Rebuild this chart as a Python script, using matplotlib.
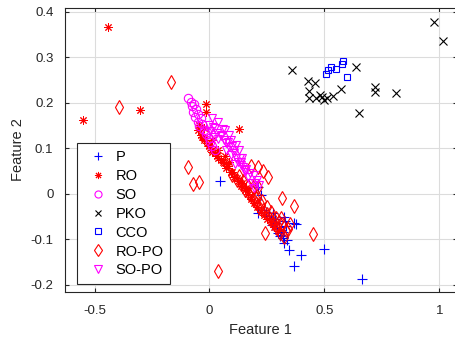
import matplotlib
matplotlib.use("Agg")
import matplotlib.pyplot as plt

plt.rcParams['font.family'] = ['Liberation Sans', 'DejaVu Sans']

# P (blue +)
p_x = [0.044, 0.210, 0.223, 0.210, 0.245, 0.258, 0.266, 0.279, 0.288, 0.301, 0.310,
       0.319, 0.310, 0.323, 0.328, 0.367, 0.376, 0.297, 0.319, 0.323, 0.345, 0.397,
       0.367, 0.498, 0.664, 0.271, 0.293, 0.306, 0.332, 0.284, 0.336, 0.236, 0.275]
p_y = [0.029, 0.015, -0.002, -0.042, -0.040, -0.048, -0.053, -0.062, -0.064, -0.073, -0.079,
       -0.084, -0.090, -0.051, -0.059, -0.064, -0.066, -0.086, -0.097, -0.108, -0.123, -0.134,
       -0.158, -0.121, -0.187, -0.068, -0.077, -0.092, -0.070, -0.055, -0.101, -0.035, -0.042]

# RO (red asterisk)
ro_x = [-0.550, -0.441, -0.301, 0.127, -0.013, -0.013, -0.031, -0.026, -0.009, 0.004,
        0.013, 0.026, 0.039, 0.048, 0.061, 0.074, 0.092, 0.105, 0.122, 0.135, 0.153,
        0.166, 0.179, 0.192, 0.205, 0.223, 0.236, 0.249, 0.266, 0.279, 0.297, -0.035, 0.000,
        -0.048, -0.022, -0.004, 0.013, 0.031, 0.057, 0.079, 0.100, 0.118, 0.140, 0.157,
        0.039, 0.066, 0.087, -0.044, -0.026, 0.009]
ro_y = [0.163, 0.367, 0.185, 0.143, 0.198, 0.180, 0.125, 0.119, 0.112, 0.101,
        0.097, 0.090, 0.079, 0.075, 0.068, 0.057, 0.048, 0.037, 0.029, 0.018, 0.009,
        0.000, -0.011, -0.020, -0.029, -0.040, -0.046, -0.055, -0.062, -0.073, -0.081, 0.130, 0.108,
        0.141, 0.123, 0.105, 0.092, 0.084, 0.070, 0.062, 0.048, 0.035, 0.024, 0.013,
        0.097, 0.084, 0.070, 0.152, 0.145, 0.119]

# SO (magenta o)
so_x = [-0.092, -0.074, -0.070, -0.061, -0.052, -0.044, -0.026, -0.017, -0.004, 0.004,
        -0.066, -0.057, -0.048, -0.035, -0.031, 0.013, 0.026, -0.080, -0.010]
so_y = [0.211, 0.193, 0.180, 0.169, 0.158, 0.149, 0.141, 0.132, 0.123, 0.114,
        0.198, 0.187, 0.176, 0.167, 0.154, 0.105, 0.097, 0.202, 0.137]

# PKO (black x)
pko_x = [0.361, 0.428, 0.459, 0.432, 0.432, 0.463, 0.480, 0.489, 0.498, 0.511,
         0.537, 0.572, 0.638, 0.651, 0.720, 0.720, 0.812, 0.978, 1.017]
pko_y = [0.273, 0.248, 0.244, 0.226, 0.211, 0.211, 0.218, 0.213, 0.207, 0.211,
         0.215, 0.231, 0.279, 0.178, 0.235, 0.224, 0.222, 0.378, 0.336]

# CCO (blue square)
cco_x = [0.507, 0.515, 0.528, 0.550, 0.576, 0.581, 0.598]
cco_y = [0.264, 0.273, 0.279, 0.275, 0.286, 0.292, 0.257]

# RO-PO (red diamond)
ropo_x = [-0.393, -0.166, -0.092, -0.070, -0.044, 0.035, 0.179, 0.210, 0.231, 0.253,
          0.314, 0.367, 0.240, 0.450, 0.100, 0.118, 0.135, 0.153, 0.170, 0.188, 0.201,
          0.214, 0.231, 0.249, 0.262, 0.279, 0.293, 0.306, 0.323, 0.197, 0.223, 0.275,
          0.301, 0.332, 0.310, 0.210, 0.188,
          0.127, 0.148, 0.166, 0.183, 0.205, 0.227, 0.249, 0.266, 0.288, 0.314, 0.341, 0.349]
ropo_y = [0.191, 0.246, 0.059, 0.022, 0.026, -0.169, 0.062, 0.059, 0.051, 0.037,
          -0.009, -0.026, -0.086, -0.088, 0.042, 0.031, 0.022, 0.009, 0.000, -0.011, -0.020,
          -0.029, -0.035, -0.044, -0.055, -0.066, -0.075, -0.086, -0.095, -0.007, -0.024, -0.053,
          -0.062, -0.079, -0.053, 0.015, 0.015,
          0.040, 0.029, 0.018, 0.007, -0.004, -0.015, -0.029, -0.040, -0.053, -0.066, -0.077, -0.066]

# SO-PO (magenta triangle down)
sopo_x = [0.017, 0.048, 0.061, 0.083, 0.105, 0.122, 0.144, -0.004, 0.004, 0.031,
          0.039, 0.070, 0.074, 0.092, 0.114, 0.153, 0.166, 0.179, 0.192, 0.100,
          0.057, 0.135, 0.020, 0.110, 0.160,
          0.013, 0.039, 0.066, 0.083, 0.092, 0.114, 0.127, 0.140, 0.153, 0.192, 0.205,
          0.214, 0.026, 0.052, 0.079, 0.105, 0.131, 0.135, 0.175, 0.197]
sopo_y = [0.147, 0.130, 0.119, 0.103, 0.090, 0.070, 0.059, 0.152, 0.138, 0.134,
          0.121, 0.112, 0.097, 0.086, 0.079, 0.048, 0.037, 0.024, 0.013, 0.105,
          0.143, 0.070, 0.125, 0.065, 0.055,
          0.167, 0.158, 0.141, 0.130, 0.119, 0.108, 0.097, 0.079, 0.053, 0.042, 0.031,
          0.020, 0.145, 0.127, 0.114, 0.097, 0.079, 0.064, 0.046, 0.024]

fig = plt.figure(figsize=(4.56, 3.45), dpi=100)
ax = fig.add_axes([0.1415, 0.1536, 0.861, 0.823])

ms = 6
ax.plot(p_x, p_y, '+', color='blue', ms=ms + 1, mew=0.8, label='P')
ax.plot(ro_x, ro_y, marker=(8, 2, 0), ls='none', color='red', ms=ms, mew=0.7, label='RO')
ax.plot(so_x, so_y, 'o', color='magenta', ms=ms, mew=0.8, mfc='none', label='SO')
ax.plot(pko_x, pko_y, 'x', color='black', ms=ms - 0.5, mew=0.8, label='PKO')
ax.plot(cco_x, cco_y, 's', color='blue', ms=ms - 1, mew=0.8, mfc='none', label='CCO')
ax.plot(ropo_x, ropo_y, 'd', color='red', ms=ms + 1, mew=0.8, mfc='none', label='RO-PO')
ax.plot(sopo_x, sopo_y, 'v', color='magenta', ms=ms, mew=0.8, mfc='none', label='SO-PO')

ax.set_xlim(-0.631, 1.078)
ax.set_ylim(-0.2154, 0.408)
ax.set_xticks([-0.5, 0, 0.5, 1])
ax.set_xticklabels(['-0.5', '0', '0.5', '1'])
ax.set_yticks([-0.2, -0.1, 0, 0.1, 0.2, 0.3, 0.4])
ax.set_yticklabels(['-0.2', '-0.1', '0', '0.1', '0.2', '0.3', '0.4'])
ax.grid(True, color='#dcdcdc', linewidth=0.8)
ax.set_axisbelow(True)
ax.tick_params(direction='in', top=True, right=True, labelsize=9.5, colors='#262626', length=3)
ax.tick_params(axis='x', pad=9)
ax.tick_params(axis='y', pad=8)
for s in ax.spines.values():
    s.set_color('#262626')
    s.set_linewidth(0.8)
ax.set_xlabel('Feature 1', fontsize=10.5, color='#262626', labelpad=5)
ax.set_ylabel('Feature 2', fontsize=10.5, color='#262626', labelpad=4)

leg = ax.legend(loc='lower left', bbox_to_anchor=(0.032, 0.028), fontsize=10.5,
                fancybox=False, framealpha=1, edgecolor='#262626', handlelength=2.0,
                labelspacing=0.34, borderpad=0.45, handletextpad=0.2, borderaxespad=0,
                markerscale=0.85)
leg.get_frame().set_linewidth(0.8)

fig.savefig('out.png', dpi=100)
